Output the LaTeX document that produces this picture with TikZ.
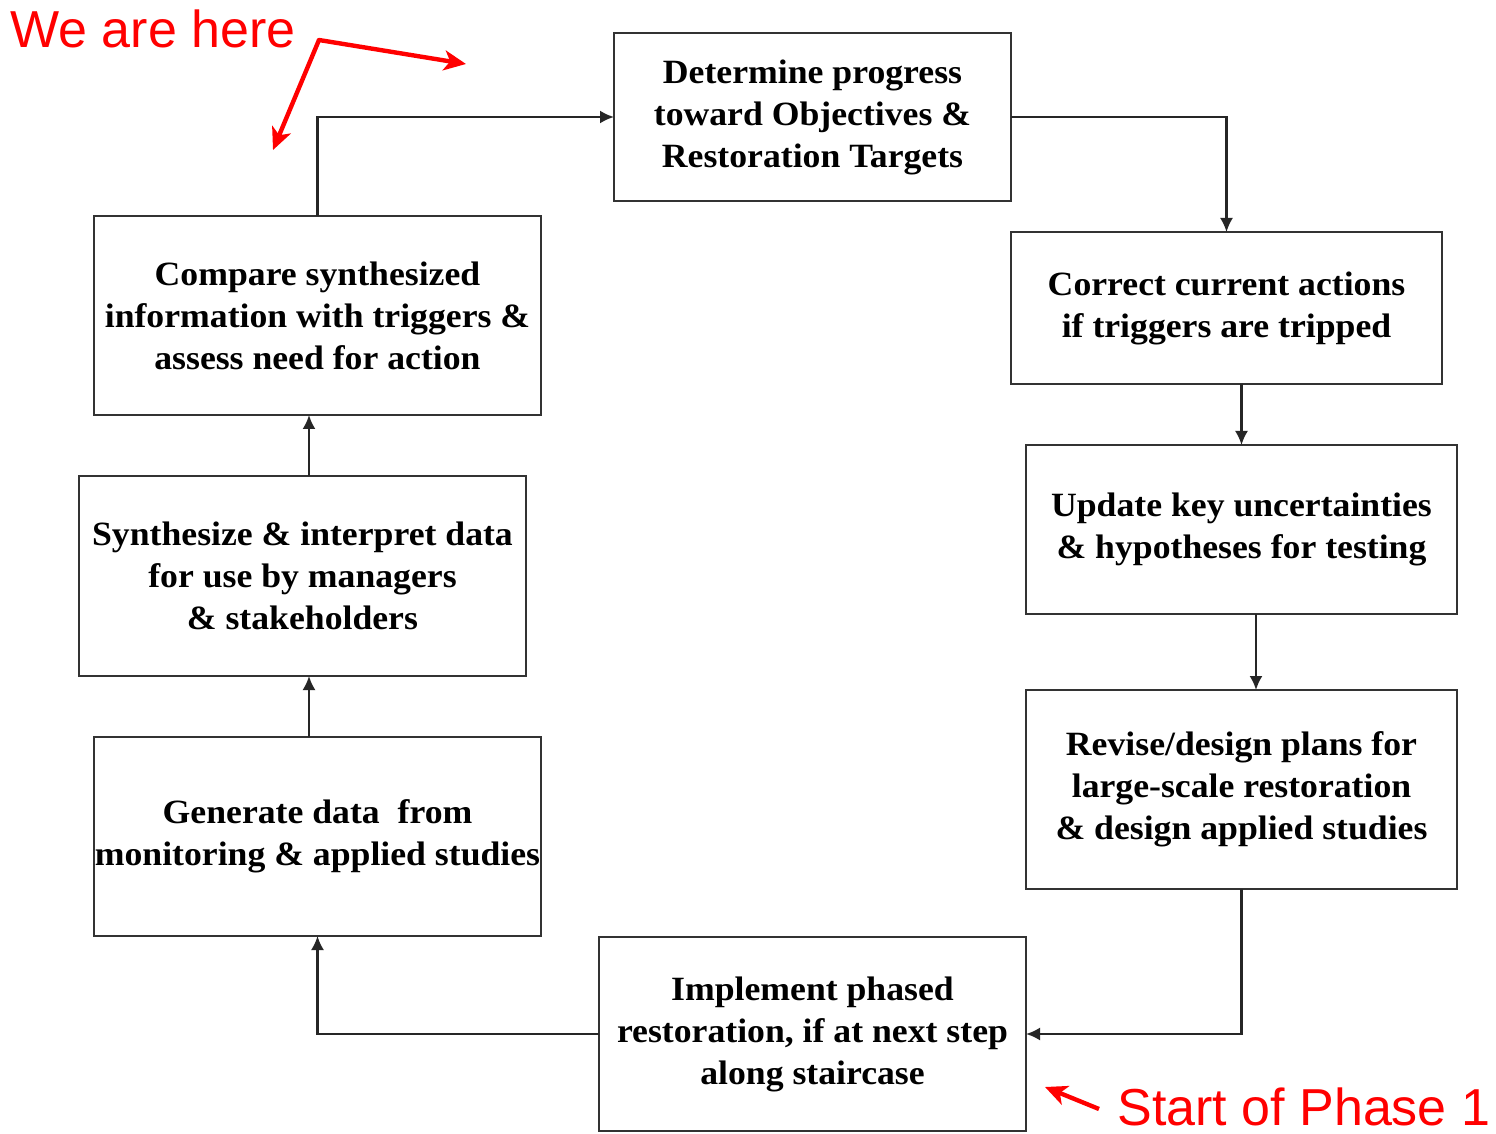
\documentclass[tikz,border=0pt]{standalone}
\usepackage{fontspec}
\setmainfont{Liberation Serif}[FakeStretch=1.05]
\newfontfamily\redfont{Liberation Sans}
\usetikzlibrary{arrows.meta}
\tikzset{
  box/.style={draw=black!80, line width=1.2pt, rectangle, inner sep=0pt, outer sep=0pt,
    align=center, font=\bfseries\fontsize{17}{21}\selectfont,
    execute at begin node={\rule{0pt}{18.5pt}}},
  arr/.style={draw=black!85, line width=1.1pt, -{Latex[length=7pt,width=6.5pt]}},
  redarr/.style={draw=red, line width=2.2pt, -{Stealth[length=11pt,width=10pt,inset=3pt]}},
  redtext/.style={text=red, inner sep=0pt, font=\redfont\fontsize{26}{30}\selectfont}
}
\begin{document}
\begin{tikzpicture}[x=0.5pt,y=-0.5pt]
\useasboundingbox[fill=white] (0,0) rectangle (1496,1134);
% boxes
\node[box, minimum width=198.5pt, minimum height=84pt] (det) at (812.5,117)
  {Determine progress\\toward Objectives \&\\Restoration Targets};
\node[box, minimum width=215.5pt, minimum height=76pt] (cor) at (1226.5,308)
  {Correct current actions\\if triggers are tripped};
\node[box, minimum width=215.5pt, minimum height=84.5pt] (upd) at (1241.5,529.5)
  {Update key uncertainties\\\& hypotheses for testing};
\node[box, minimum width=215.5pt, minimum height=99.5pt] (rev) at (1241.5,789.5)
  {Revise/design plans for\\large-scale restoration\\\& design applied studies};
\node[box, minimum width=213.5pt, minimum height=97pt] (imp) at (812.5,1034)
  {Implement phased\\restoration, if at next step\\along staircase};
\node[box, minimum width=223.5pt, minimum height=99.5pt] (gen) at (317.5,836.5)
  {Generate data\ \ from\\monitoring \& applied studies};
\node[box, minimum width=223.5pt, minimum height=100pt] (syn) at (302.5,576)
  {Synthesize \& interpret data\\for use by managers\\\& stakeholders};
\node[box, minimum width=223.5pt, minimum height=99.5pt] (cmp) at (317.5,315.5)
  {Compare synthesized\\information with triggers \&\\assess need for action};
% connectors
\draw[arr] (cmp.north) |- (det.west);
\draw[arr] (det.east) -| (cor.north);
\draw[arr] (cor.south -| upd.north) -- (upd.north);
\draw[arr] ([xshift=7.25pt]upd.south) -- ([xshift=7.25pt]rev.north);
\draw[arr] (rev.south) |- (imp.east);
\draw[arr] (imp.west) -| (gen.south);
\draw[arr] ([xshift=-4.25pt]gen.north) -- ([xshift=-4.25pt]gen.north |- syn.south);
\draw[arr] ([xshift=3.25pt]syn.north) -- ([xshift=3.25pt]syn.north |- cmp.south);
% red annotations
\node[redtext, anchor=base west] (weare) at (10,48) {We are here};
\coordinate (here) at (319,40);
\coordinate (hereA) at (466,64);
\coordinate (hereB) at (273,150);
\draw[redarr] (here) -- (hereA);
\draw[redarr] (here) -- (hereB);
\draw[red, line width=2.2pt, line cap=round] (here) -- ++(0,0);
\node[redtext, anchor=base west] (start) at (1117,1125) {Start of Phase 1};
\coordinate (startT) at (1099,1109);
\coordinate (startH) at (1045,1087);
\draw[redarr] (startT) -- (startH);
\end{tikzpicture}
\end{document}
